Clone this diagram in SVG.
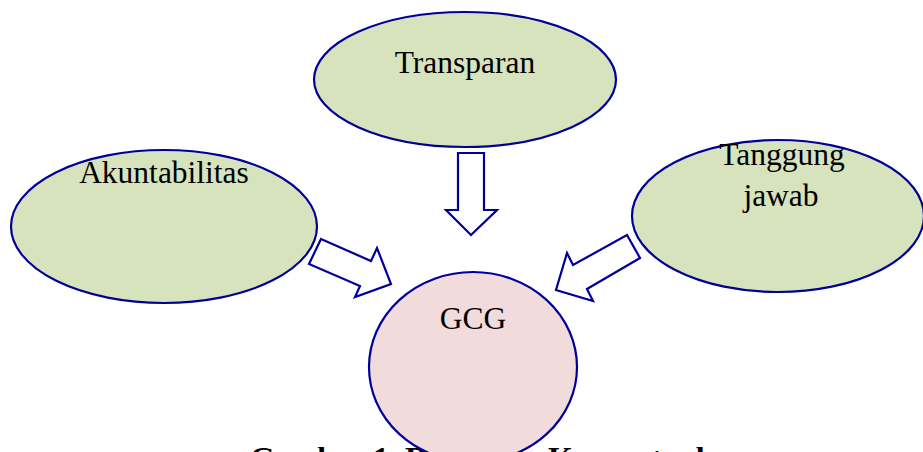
<svg xmlns="http://www.w3.org/2000/svg" width="923" height="452" viewBox="0 0 923 452">
<style>
.green{fill:#D6E3BC;stroke:#000099;stroke-width:2.2}
.pink{fill:#F2DBDB;stroke:#000099;stroke-width:2.2}
.arrow{fill:#FFFFFF;stroke:#000099;stroke-width:2.2;stroke-linejoin:miter}
.lbl{font-family:"Liberation Serif","Times New Roman",serif;font-size:31.5px;fill:#000000;text-anchor:middle}
.cap{font-family:"Liberation Serif","Times New Roman",serif;font-size:32px;font-weight:bold;fill:#000000}
</style>
<rect width="923" height="452" fill="#FFFFFF"/>
<g id="connectors">
<polygon class="arrow" points="458,153 484,153 484,210 497,210 471,235 446,210 458,210"/>
<polygon class="arrow" points="321,239 371,261 377,248 391,284 355,297 360,286 309,264"/>
<polygon class="arrow" points="627,235 640,258 587,289 593,301 556,290 567,253 573,265"/>
</g>
<g id="transparan">
<ellipse class="green" cx="465" cy="79.5" rx="151" ry="67.5"/>
<text class="lbl" x="465" y="73">Transparan</text>
</g>
<g id="akuntabilitas">
<ellipse class="green" cx="164" cy="226.5" rx="153" ry="76.5"/>
<text class="lbl" x="164" y="183">Akuntabilitas</text>
</g>
<g id="tanggung-jawab">
<ellipse class="green" cx="778" cy="216" rx="146" ry="76"/>
<text class="lbl" x="782" y="165">Tanggung</text>
<text class="lbl" x="781" y="206">jawab</text>
</g>
<g id="caption">
<text class="cap" x="250" y="469">Gambar 1. Rerangka Konseptual</text>
</g>
<g id="gcg">
<ellipse class="pink" cx="473" cy="367" rx="104" ry="95"/>
<text class="lbl" x="473" y="329">GCG</text>
</g>
</svg>
